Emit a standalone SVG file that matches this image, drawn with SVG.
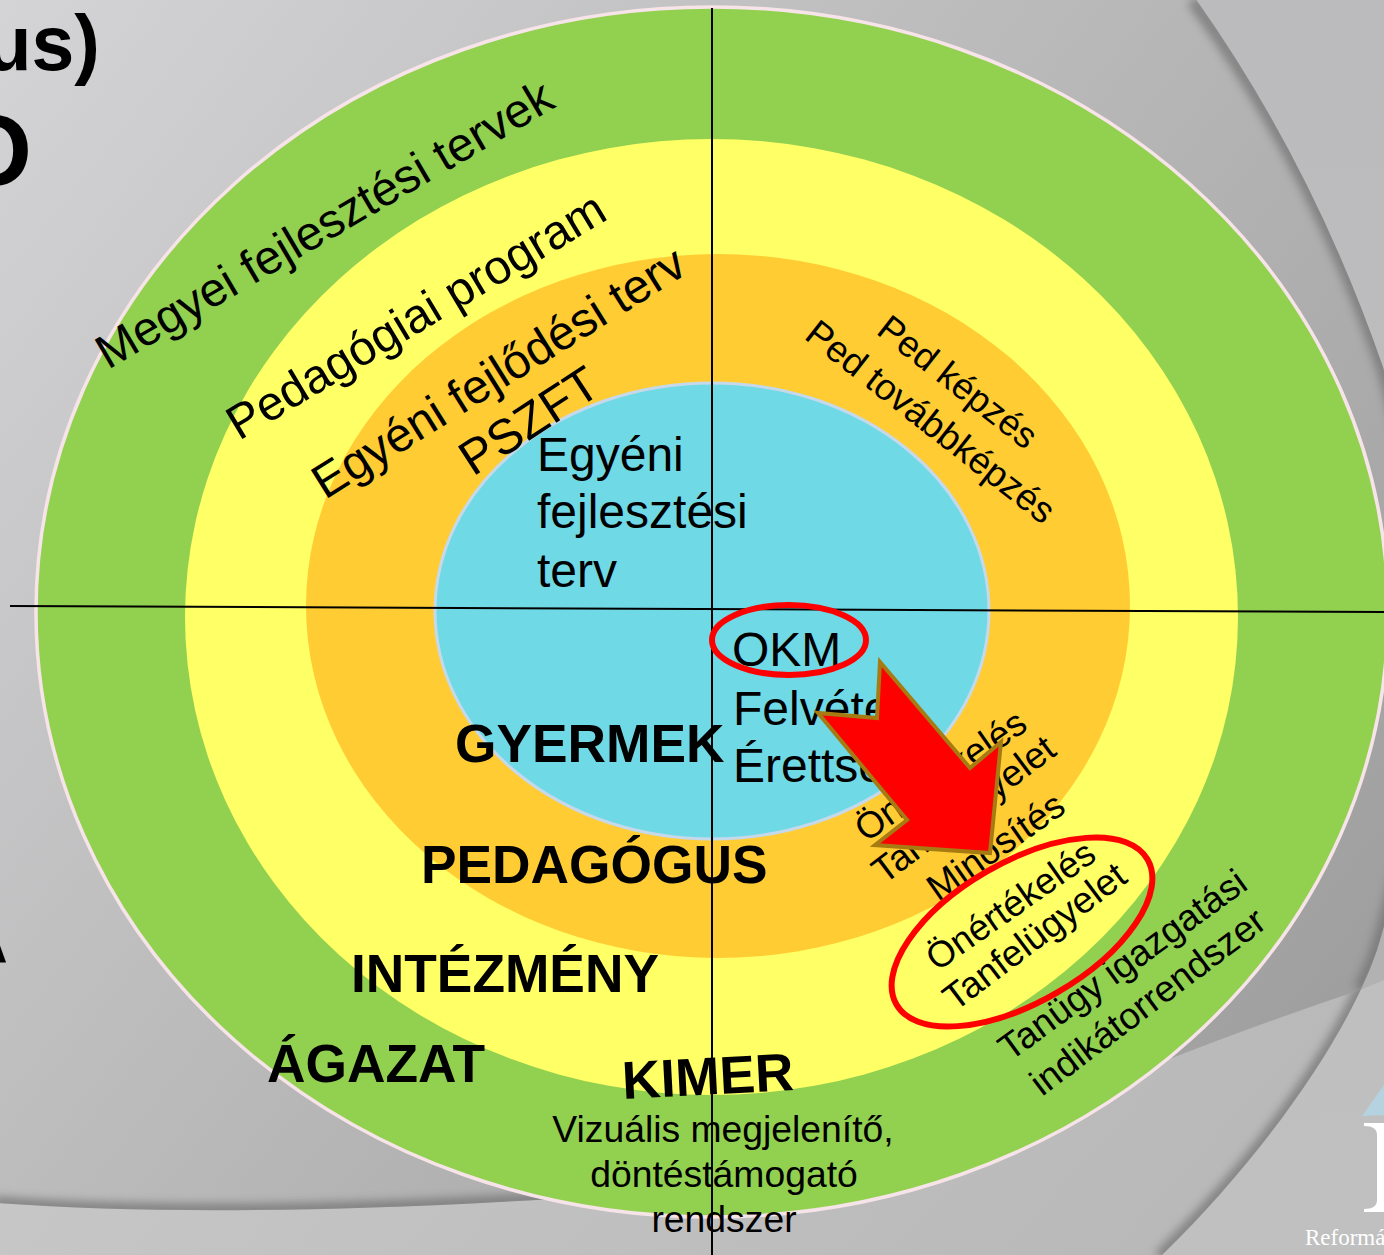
<svg xmlns="http://www.w3.org/2000/svg" width="1384" height="1255" viewBox="0 0 1384 1255">
<style>
text{font-family:"Liberation Sans",Arial,sans-serif;fill:#000}
.b{font-weight:bold}
.hi{fill:none;stroke:#f00;stroke-width:6}
.axis{stroke:#000;stroke-width:2;fill:none}
.shade{fill:none;stroke:#707070;stroke-width:14;filter:url(#blur);opacity:.7}
</style>
<defs>
<linearGradient id="gR" gradientUnits="userSpaceOnUse" x1="0" y1="0" x2="1384" y2="1255"><stop offset="0" stop-color="#d3d3d5"/><stop offset="1" stop-color="#b6b6b6"/></linearGradient>
<linearGradient id="gC" gradientUnits="userSpaceOnUse" x1="0" y1="0" x2="1384" y2="1100"><stop offset="0" stop-color="#d4d4d6"/><stop offset="1" stop-color="#9c9c9c"/></linearGradient>
<linearGradient id="gB" gradientUnits="userSpaceOnUse" x1="1300" y1="0" x2="1384" y2="1255"><stop offset="0" stop-color="#bbbbbd"/><stop offset="1" stop-color="#c0c0c0"/></linearGradient>
<filter id="blur" x="-10%" y="-10%" width="120%" height="120%"><feGaussianBlur stdDeviation="4"/></filter>
<clipPath id="cC"><path d="M-5-5H1193Q1312 162 1383 367C1440 560 1430 780 1377 950Q1370 970 1360 990Q1270 1020 1167 1060C950 1150 750 1190 500 1202Q200 1218 -5 1203Z"/></clipPath>
<clipPath id="cR"><path d="M-5-5H1193Q1312 162 1383 367C1440 560 1430 780 1377 950C1350 1030 1270 1150 1160 1257H-5Z"/></clipPath>
</defs>
<g id="background">
<rect width="1384" height="1255" fill="url(#gB)"/>
<path d="M1360 990Q1372 985 1384 980V925L1375 950Z" fill="#b2b2b2"/>
<path d="M-5-5H1193Q1312 162 1383 367C1440 560 1430 780 1377 950C1350 1030 1270 1150 1160 1257H-5Z" fill="url(#gR)"/>
<g clip-path="url(#cR)"><path class="shade" d="M1377 950C1350 1030 1270 1150 1160 1257"/></g>
<path d="M-5-5H1193Q1312 162 1383 367C1440 560 1430 780 1377 950Q1370 970 1360 990Q1270 1020 1167 1060C950 1150 750 1190 500 1202Q200 1218 -5 1203Z" fill="url(#gC)"/>
<g clip-path="url(#cC)"><path class="shade" d="M1193 0Q1312 162 1383 367C1440 560 1430 780 1377 950Q1370 970 1360 990"/><path class="shade" d="M850 1165Q680 1195 500 1202Q200 1218 -5 1203"/></g>
<path d="M1362 1116L1384 1085V1115Z" fill="#b5d2e0"/>
<path d="M1364 1123H1384V1212H1364V1209Q1377 1209 1377 1200V1135Q1377 1126 1364 1126Z" fill="#fff"/>
<text x="1305" y="1245" style="font-family:'Liberation Serif',serif;fill:#fff" font-size="23">Reformá</text>
<text x="100" y="70" class="b" font-size="77" text-anchor="end">us)</text>
<text x="32" y="185" class="b" font-size="100" text-anchor="end">O</text>
<text x="8" y="963" class="b" font-size="77" text-anchor="end">A</text>
</g>
<g id="ring-green"><ellipse cx="712" cy="612" rx="676" ry="605" fill="#92d050" stroke="#f7e4e8" stroke-width="3.500"/></g>
<g id="ring-yellow"><ellipse cx="711.500" cy="617" rx="526.500" ry="478" fill="#ffff66"/></g>
<g id="ring-orange"><ellipse cx="718" cy="606" rx="412" ry="352" fill="#ffcc33"/></g>
<g id="ring-blue"><ellipse cx="712" cy="611" rx="277" ry="228" fill="#70d9e6" stroke="#c6d9ea" stroke-width="3"/></g>
<g id="connectors"><path class="axis" d="M712 8V1255"/><path class="axis" d="M10 606L1384 612"/></g>
<g id="labels">
<text transform="translate(108 370) rotate(-30.400)" font-size="47.800">Megyei fejlesztési tervek</text>
<text transform="translate(239 441) rotate(-31)" font-size="48">Pedagógiai program</text>
<text transform="translate(325 500) rotate(-32)" font-size="48">Egyéni fejlődési terv</text>
<text transform="translate(473 477) rotate(-33)" font-size="49">PSZFT</text>
<text x="537" y="471" font-size="48">Egyéni</text>
<text x="537" y="528" font-size="48">fejlesztési</text>
<text x="537" y="587" font-size="48">terv</text>
<text transform="translate(875 333) rotate(38)" font-size="36.500">Ped képzés</text>
<text transform="translate(803 338) rotate(38)" font-size="37">Ped továbbképzés</text>
<text x="732" y="666" font-size="48">OKM</text>
<text x="733" y="725" font-size="48">Felvéte</text>
<text x="733" y="782" font-size="48">Érettsé</text>
<text transform="translate(866 843) rotate(-35)" font-size="37">Önértékelés</text>
<text transform="translate(884 885) rotate(-37)" font-size="37">Tanfelügyelet</text>
<text transform="translate(938 902) rotate(-35)" font-size="37">Minősítés</text>
<text transform="translate(937 972) rotate(-35)" font-size="36.500">Önértékelés</text>
<text transform="translate(955 1012) rotate(-37)" font-size="37">Tanfelügyelet</text>
<text transform="translate(1010 1062) rotate(-36)" font-size="37">Tanügy igazgatási</text>
<text transform="translate(1042 1097) rotate(-37)" font-size="37">indikátorrendszer</text>
<text x="455" y="762" class="b" font-size="53.300">GYERMEK</text>
<text x="421" y="883" class="b" font-size="53.300">PEDAGÓGUS</text>
<text x="351" y="992" class="b" font-size="53.300">INTÉZMÉNY</text>
<text x="267" y="1082" class="b" font-size="53.300">ÁGAZAT</text>
<text transform="translate(623 1099) rotate(-3)" class="b" font-size="53.300">KIMER</text>
<text x="723" y="1142" font-size="37.300" text-anchor="middle">Vizuális megjelenítő,</text>
<text x="724" y="1187" font-size="37.300" text-anchor="middle">döntéstámogató</text>
<text x="724" y="1232" font-size="37.300" text-anchor="middle">rendszer</text>
</g>
<g id="highlights">
<ellipse class="hi" cx="789" cy="640" rx="77" ry="35"/>
<ellipse class="hi" cx="1022" cy="932" rx="145" ry="70" transform="rotate(-30 1022 932)"/>
</g>
<g id="arrow"><path d="M880 662L970 768L1001 742L990 853L875 845L907 820L818 713L877 718Z" fill="#f00" stroke="#a67c12" stroke-width="4"/></g>
</svg>
